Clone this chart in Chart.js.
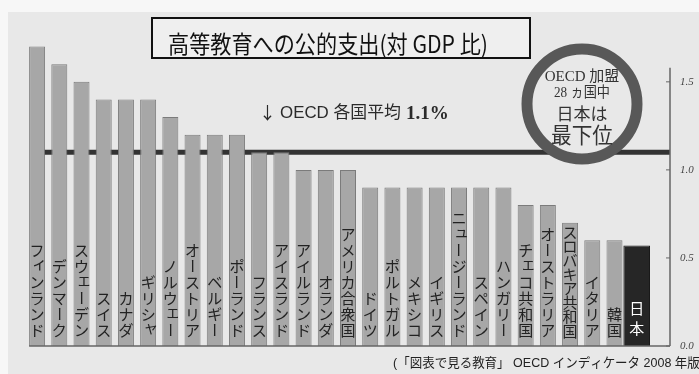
<!DOCTYPE html>
<html lang="ja">
<head>
<meta charset="utf-8">
<title>高等教育への公的支出(対 GDP 比)</title>
<script src="https://cdn.jsdelivr.net/npm/chart.js@4/dist/chart.umd.min.js"></script>
<style>
  html, body { margin: 0; padding: 0; background: #e8e8e8; }
  #chart { display: block; }
</style>
</head>
<body>
<canvas id="chart" width="699" height="374"></canvas>
<script>
// data
const countries = ['フィンランド', 'デンマーク', 'スウェーデン', 'スイス', 'カナダ', 'ギリシャ', 'ノルウェー',
  'オーストリア', 'ベルギー', 'ポーランド', 'フランス', 'アイスランド', 'アイルランド', 'オランダ',
  'アメリカ合衆国', 'ドイツ', 'ポルトガル', 'メキシコ', 'イギリス', 'ニュージーランド', 'スペイン',
  'ハンガリー', 'チェコ共和国', 'オーストラリア', 'スロバキア共和国', 'イタリア', '韓国', '日本'];
const spending = [1.7, 1.6, 1.5, 1.4, 1.4, 1.4, 1.3, 1.2, 1.2, 1.2, 1.1, 1.1, 1.0, 1.0,
  1.0, 0.9, 0.9, 0.9, 0.9, 0.9, 0.9, 0.9, 0.8, 0.8, 0.7, 0.6, 0.6, 0.57];
const highlight = '日本';
const oecdAverage = 1.1;
const yTicks = [0, 0.5, 1.0, 1.5];

const title = '高等教育への公的支出(対 GDP 比)';
const note = '(「図表で見る教育」 OECD インディケータ 2008 年版)';

const jpIndex = countries.indexOf(highlight);
const labels = [...countries, ''];  // empty slot keeps room before the axis
const otherValues = labels.map((c, i) => (i < countries.length && i !== jpIndex) ? spending[i] : null);
const jpValues = labels.map((c, i) => i === jpIndex ? spending[i] : null);

const SANS = '"Noto Sans CJK JP", "Noto Sans", sans-serif';
const LATIN = '"Liberation Sans", "Noto Sans CJK JP", sans-serif';
const SERIF = '"Liberation Serif", "DejaVu Serif", "Noto Sans CJK JP", serif';
const smallKana = 'ァィゥェォッャュョ';

function drawVertical(ctx, text, x, bottom, pitch) {
  const chars = Array.from(text);
  chars.forEach((ch, k) => {
    const i = chars.length - 1 - k;
    const cy = bottom - pitch / 2 - i * pitch;
    if (ch === 'ー') {
      ctx.save();
      ctx.translate(x, cy);
      ctx.rotate(Math.PI / 2);
      ctx.fillText(ch, 0, 0);
      ctx.restore();
    } else if (smallKana.includes(ch)) {
      ctx.fillText(ch, x + 2.5, cy - 2.5);
    } else {
      ctx.fillText(ch, x, cy);
    }
  });
}

const paper = {
  id: 'paper',
  beforeDraw(chart) {
    const ctx = chart.ctx;
    ctx.save();
    ctx.fillStyle = '#f7f7f7';
    ctx.fillRect(0, 0, chart.width, chart.height);
    ctx.fillStyle = '#e8e8e8';
    ctx.fillRect(8, 12, chart.width - 8, chart.height - 12);
    ctx.restore();
  }
};

const averageLine = {
  id: 'averageLine',
  beforeDatasetsDraw(chart) {
    const { ctx, chartArea, scales } = chart;
    const y = scales.y.getPixelForValue(oecdAverage);
    ctx.save();
    ctx.strokeStyle = '#333';
    ctx.lineWidth = 5;
    ctx.beginPath();
    ctx.moveTo(scales.x.getPixelForValue(0), y);
    ctx.lineTo(chartArea.right, y);
    ctx.stroke();
    ctx.restore();
  }
};

const decorations = {
  id: 'decorations',
  afterDatasetsDraw(chart) {
    const { ctx, chartArea, scales } = chart;
    const xs = scales.x, ys = scales.y;
    const base = ys.getPixelForValue(0);
    ctx.save();

    // baseline and right axis
    ctx.strokeStyle = '#666';
    ctx.lineWidth = 1.5;
    ctx.beginPath();
    ctx.moveTo(xs.getPixelForValue(0) - 8, base);
    ctx.lineTo(chartArea.right, base);
    ctx.moveTo(chartArea.right, base);
    ctx.lineTo(chartArea.right, ys.getPixelForValue(1.58));
    ctx.stroke();
    ctx.lineWidth = 1;
    yTicks.forEach(v => {
      const y = ys.getPixelForValue(v);
      ctx.beginPath();
      ctx.moveTo(chartArea.right - 4, y);
      ctx.lineTo(chartArea.right, y);
      ctx.stroke();
    });

    // country names written vertically inside the bars
    ctx.textAlign = 'center';
    ctx.textBaseline = 'middle';
    countries.forEach((name, i) => {
      const x = xs.getPixelForValue(i);
      const top = ys.getPixelForValue(spending[i]) + 2;
      const bottom = base - 8;
      const isJp = i === jpIndex;
      const n = Array.from(name).length;
      const pitch = isJp ? 20 : Math.min(16, (bottom - top) / n);
      ctx.fillStyle = isJp ? '#fff' : '#222';
      ctx.font = '15px ' + SANS;
      drawVertical(ctx, name, x, bottom, pitch);
    });

    // title box
    ctx.fillStyle = '#efefef';
    ctx.fillRect(152, 18, 378, 40);
    ctx.strokeStyle = '#111';
    ctx.lineWidth = 2;
    ctx.strokeRect(152, 18, 378, 40);
    ctx.fillStyle = '#111';
    ctx.textAlign = 'left';
    ctx.font = '24px ' + SANS;
    ctx.fillText(title, 168, 44, 320);

    // average label
    const avgY = 113;
    ctx.fillStyle = '#2a2a2a';
    ctx.font = '17px ' + SANS;
    ctx.fillText('↓', 259, avgY);
    ctx.font = '17px ' + LATIN;
    ctx.fillText('OECD 各国平均', 280, avgY, 121);
    ctx.font = 'bold 19px ' + SERIF;
    ctx.fillText(oecdAverage.toFixed(1) + '%', 406, avgY + 1, 47);

    // circled note
    const cx = 582, cy = 104;
    ctx.beginPath();
    ctx.arc(cx, cy, 55, 0, Math.PI * 2);
    ctx.fillStyle = '#e8e8e8';
    ctx.fill();
    ctx.lineWidth = 11;
    ctx.strokeStyle = '#585858';
    ctx.stroke();
    ctx.textAlign = 'center';
    ctx.fillStyle = '#333';
    ctx.font = '15px ' + SERIF;
    ctx.fillText('OECD 加盟', cx, 77, 78);
    ctx.font = '15px ' + SERIF;
    ctx.fillText(countries.length + ' ヵ国中', cx, 93, 56);
    ctx.font = '17px ' + SANS;
    ctx.fillText('日本は', cx, 114);
    ctx.font = '22px ' + SANS;
    ctx.fillText('最下位', cx, 135, 62);

    // source
    ctx.textAlign = 'left';
    ctx.fillStyle = '#222';
    ctx.font = '13px ' + LATIN;
    ctx.fillText(note, 393, 363, 311);

    ctx.restore();
  }
};

new Chart(document.getElementById('chart'), {
  type: 'bar',
  data: {
    labels: labels,
    datasets: [{
      data: otherValues,
      backgroundColor: '#a7a7a7',
      borderColor: '#7b7b7b',
      borderWidth: 1,
      barPercentage: 0.72,
      categoryPercentage: 1,
      grouped: false
    }, {
      data: jpValues,
      backgroundColor: '#262626',
      borderColor: '#1a1a1a',
      borderWidth: 1,
      barPercentage: 1.2,
      categoryPercentage: 1,
      grouped: false
    }]
  },
  options: {
    responsive: false,
    animation: false,
    layout: { padding: { left: 26, right: 0, top: 29, bottom: 28 } },
    plugins: {
      legend: { display: false },
      tooltip: { enabled: false }
    },
    scales: {
      x: { display: false },
      y: {
        position: 'right',
        min: 0,
        max: 1.8,
        afterFit: scale => { scale.width = 29; },
        afterBuildTicks: scale => { scale.ticks = yTicks.map(v => ({ value: v })); },
        grid: { display: false, drawTicks: false },
        border: { display: false },
        ticks: {
          padding: 10,
          color: '#444',
          font: { family: SERIF, size: 11, style: 'italic' },
          callback: v => Number(v).toFixed(1)
        }
      }
    }
  },
  plugins: [paper, averageLine, decorations]
});
</script>
</body>
</html>
